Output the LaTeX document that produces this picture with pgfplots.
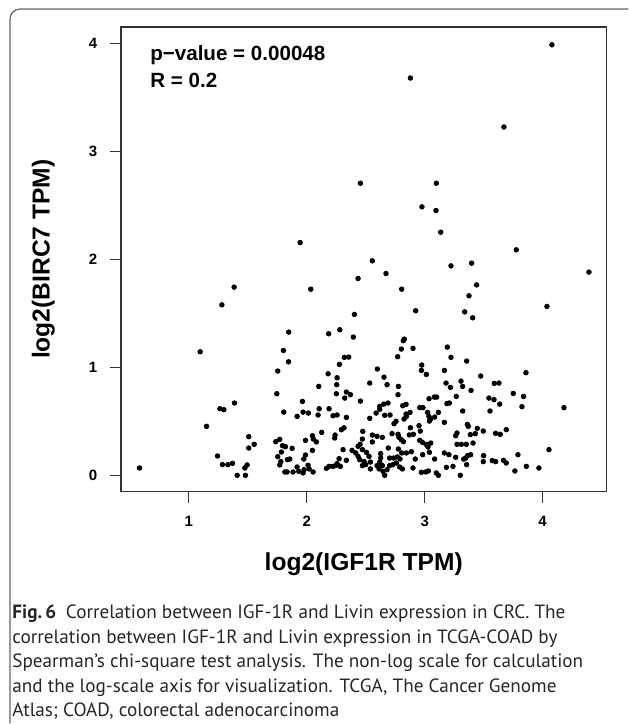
\documentclass[border=0pt]{standalone}
\usepackage{fontspec}
\setmainfont{Liberation Sans}
\newfontfamily\capfont{PT Sans}
\usepackage{pgfplots}
\pgfplotsset{compat=1.18}

\begin{document}
\begin{tikzpicture}
\begin{axis}[
    name=ax,
    scale only axis,
    width=243pt, height=232.5pt,
    clip=false,
    xmin=0.4237, xmax=4.542,
    ymin=-0.151, ymax=4.155,
    xtick={1,2,3,4}, ytick={0,1,2,3,4},
    axis line style={draw=black!80, line width=0.75pt},
    tick align=outside,
    major tick length=5.5pt,
    tick style={draw=black!80, line width=0.6pt},
    xtick pos=bottom, ytick pos=left,
    /pgf/number format/assume math mode=true,
    ticklabel style={font=\bfseries\fontsize{7.5}{8}\selectfont},
    xticklabel style={anchor=center, yshift=-9.5pt},
    yticklabel style={anchor=center, xshift=-8.5pt},
    xlabel={log2(IGF1R TPM)},
    ylabel={log2(BIRC7 TPM)},
    label style={font=\bfseries\fontsize{12.3}{14}\selectfont},
    xlabel style={at={(axis description cs:0.5,-0.157)}, anchor=center},
    ylabel style={at={(axis description cs:-0.16,0.5)}, anchor=center},
]
% page frame and figure border (reference pixels mapped to the axis box)
\path (rel axis cs:-0.249,-0.4989) rectangle (rel axis cs:1.0453,1.0581);
\draw[black!60, line width=0.6pt, rounded corners=5pt]
    (rel axis cs:-0.2284,-0.4989) -- (rel axis cs:-0.2284,1.0387) -- (rel axis cs:1.0453,1.0387);

\addplot[only marks, mark=*, mark size=1.15pt, black] table {
x y
4.079 3.990
2.879 3.682
3.672 3.228
2.455 2.707
3.099 2.707
2.977 2.488
3.096 2.454
3.136 2.253
1.944 2.157
3.777 2.090
2.556 1.988
3.223 1.941
3.398 1.966
4.393 1.883
2.435 1.824
2.672 1.870
1.384 1.744
2.034 1.725
2.805 1.725
3.441 1.765
3.376 1.664
1.280 1.580
4.037 1.565
2.924 1.525
3.339 1.515
2.404 1.491
3.407 1.460
1.847 1.327
2.186 1.312
2.280 1.349
2.395 1.281
2.819 1.247
2.828 1.262
2.802 1.170
2.901 1.176
1.096 1.145
1.802 1.157
3.192 1.188
1.845 1.052
2.319 1.093
2.356 1.096
2.771 1.099
3.223 1.093
3.356 1.059
1.754 0.966
2.277 1.028
2.599 0.985
2.975 1.022
2.972 0.972
3.014 0.935
3.167 0.972
3.859 0.951
2.181 0.941
2.257 0.904
2.655 0.910
3.475 0.920
2.534 0.855
2.681 0.840
3.308 0.873
3.322 0.824
3.181 0.855
3.218 0.815
3.590 0.852
3.630 0.855
2.102 0.824
2.254 0.840
1.746 0.756
2.777 0.824
2.251 0.756
2.336 0.772
2.370 0.747
3.393 0.787
3.751 0.759
3.839 0.731
2.774 0.747
2.322 0.716
3.268 0.731
3.545 0.716
3.588 0.701
3.082 0.725
3.102 0.725
3.037 0.710
1.963 0.685
2.455 0.688
1.387 0.670
1.263 0.617
1.297 0.608
3.636 0.660
3.209 0.670
3.189 0.665
2.619 0.639
2.653 0.660
2.689 0.670
2.619 0.612
2.814 0.645
2.842 0.657
3.825 0.636
4.181 0.627
2.105 0.617
2.189 0.617
2.958 0.627
2.986 0.627
3.554 0.596
1.805 0.586
1.969 0.586
2.014 0.577
1.918 0.546
2.096 0.559
2.223 0.552
2.257 0.559
2.588 0.577
2.661 0.556
2.706 0.559
2.842 0.568
2.876 0.583
2.845 0.546
2.825 0.522
2.336 0.537
2.534 0.528
3.025 0.583
3.036 0.546
3.040 0.503
3.051 0.522
3.116 0.583
3.085 0.540
3.322 0.596
2.879 0.441
2.952 0.460
2.740 0.478
2.757 0.500
3.167 0.491
3.362 0.472
3.370 0.454
3.446 0.435
3.429 0.386
3.387 0.377
3.497 0.410
3.692 0.423
3.602 0.389
3.641 0.380
1.150 0.454
2.294 0.423
2.316 0.440
2.475 0.407
2.963 0.410
2.127 0.398
2.240 0.373
2.237 0.346
2.048 0.367
2.056 0.336
2.556 0.373
2.596 0.361
2.641 0.352
2.723 0.386
2.774 0.380
2.782 0.352
2.802 0.330
2.819 0.312
2.870 0.374
3.263 0.367
3.274 0.392
2.904 0.380
1.508 0.358
1.554 0.287
1.508 0.253
1.737 0.312
1.771 0.333
1.794 0.275
1.819 0.265
1.876 0.250
1.989 0.324
2.082 0.309
2.472 0.336
2.452 0.287
2.435 0.269
2.556 0.309
2.958 0.324
2.980 0.306
3.011 0.287
3.051 0.299
3.028 0.262
3.274 0.287
3.311 0.287
3.353 0.287
3.410 0.299
2.048 0.231
2.308 0.238
2.384 0.231
2.415 0.207
2.472 0.238
2.506 0.213
2.692 0.253
2.777 0.244
2.805 0.207
2.887 0.219
2.845 0.207
4.054 0.238
1.785 0.216
1.989 0.188
1.975 0.151
3.167 0.207
3.206 0.191
3.040 0.213
3.390 0.191
3.791 0.191
2.983 0.191
1.243 0.179
1.754 0.173
1.780 0.127
1.771 0.096
1.836 0.145
1.856 0.151
2.274 0.154
2.257 0.108
2.336 0.139
2.435 0.176
2.449 0.145
2.486 0.127
2.528 0.176
2.540 0.123
2.627 0.201
2.627 0.160
2.703 0.160
2.737 0.160
2.768 0.170
2.791 0.151
2.920 0.151
3.084 0.151
3.263 0.167
3.347 0.160
3.364 0.182
3.331 0.150
3.356 0.099
3.500 0.182
3.497 0.127
3.573 0.136
3.602 0.127
3.669 0.139
3.692 0.114
1.285 0.099
1.331 0.099
1.370 0.111
1.494 0.096
1.475 0.068
0.582 0.068
1.410 0.000
1.480 0.000
1.814 0.031
1.833 0.031
1.884 0.031
1.918 0.077
1.932 0.037
1.969 0.022
1.977 0.052
2.011 0.093
2.020 0.059
2.054 0.031
2.167 0.065
2.189 0.083
2.223 0.083
2.246 0.090
2.285 0.083
2.472 0.090
2.500 0.099
2.540 0.059
2.596 0.090
2.619 0.123
2.641 0.090
2.613 0.059
2.647 0.037
2.661 0.000
2.681 0.052
2.703 0.090
2.731 0.099
2.760 0.114
2.811 0.059
2.788 0.077
2.901 0.068
2.972 0.028
3.008 0.031
3.031 0.040
3.099 0.022
3.116 0.000
3.184 0.074
3.240 0.083
3.302 0.000
3.765 0.040
3.862 0.083
3.969 0.068
};

\node[anchor=base west, inner sep=0pt, font=\bfseries\fontsize{10.3}{12}\selectfont]
    at (rel axis cs:0.0597,0.9269) {p−value = 0.00048};
\node[anchor=base west, inner sep=0pt, font=\bfseries\fontsize{10.3}{12}\selectfont]
    at (rel axis cs:0.0597,0.8688) {R = 0.2};

\node[anchor=north west, inner sep=0pt, align=left, text=black!85,
      font=\capfont\fontsize{9.6}{12.25}\selectfont] at (rel axis cs:-0.2243,-0.2430) {%
\textbf{Fig.\,6}\enspace Correlation between IGF-1R and Livin expression in CRC. The\\
correlation between IGF-1R and Livin expression in TCGA-COAD by\\
Spearman’s chi-square test analysis. The non-log scale for calculation\\
and the log-scale axis for visualization. TCGA, The Cancer Genome\\
Atlas; COAD, colorectal adenocarcinoma};
\end{axis}
\end{tikzpicture}
\end{document}
